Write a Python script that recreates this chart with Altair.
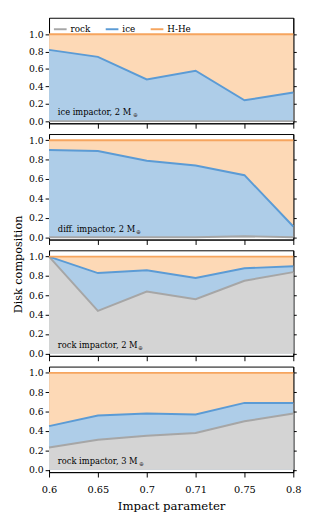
import altair as alt
import pandas as pd

FONT = "DejaVu Serif"

b_labels = ["0.6", "0.65", "0.7", "0.71", "0.75", "0.8"]
panel_titles = ["ice impactor, 2 M", "diff. impactor, 2 M", "rock impactor, 2 M", "rock impactor, 3 M"]
earth_sym = "⊕"
rock_frac = [
    [0.0, 0.0, 0.0, 0.0, 0.0, 0.0],
    [0.0, 0.0, 0.0, 0.0, 0.01, 0.0],
    [1.0, 0.44, 0.64, 0.56, 0.75, 0.84],
    [0.23, 0.31, 0.35, 0.38, 0.50, 0.58],
]
ice_top = [
    [0.82, 0.74, 0.48, 0.58, 0.24, 0.33],
    [0.90, 0.89, 0.79, 0.74, 0.64, 0.11],
    [1.0, 0.83, 0.86, 0.78, 0.88, 0.90],
    [0.45, 0.56, 0.58, 0.57, 0.69, 0.69],
]
hhe_top = [1.0, 1.0, 1.0, 1.0, 1.0, 1.0]
components = ["rock", "ice", "H-He"]
fill_colors = ["#d4d4d4", "#aecde8", "#fdd9b6"]
line_colors = ["#a6a6a6", "#5b9bd5", "#f6a55e"]
sub_x = [86, 89, 91, 92]

W, H = 250, 108


def panel(i):
    rows = []
    for j, b in enumerate(b_labels):
        rows.append({"b": b, "comp": "rock", "v": rock_frac[i][j]})
        rows.append({"b": b, "comp": "ice", "v": ice_top[i][j]})
        rows.append({"b": b, "comp": "H-He", "v": hhe_top[j]})
    df = pd.DataFrame(rows)
    dom = [-0.025, 1.19] if i == 0 else [-0.025, 1.065]
    last = i == 3
    xaxis = alt.Axis(labels=last, title="Impact parameter" if last else None,
                     labelAngle=0, tickSize=5, labelPadding=8, titlePadding=6,
                     labelFontSize=10, titleFontSize=12)
    yaxis = alt.Axis(values=[0, 0.2, 0.4, 0.6, 0.8, 1.0], format=".1f", tickSize=4,
                     labelPadding=2, title=None)
    x = alt.X("b:O", sort=b_labels, scale=alt.Scale(type="point", padding=0), axis=xaxis)
    yscale = alt.Scale(domain=dom, nice=False, zero=False)
    base = alt.Chart(df)
    layers = []
    first = True
    for c, fc in zip(["H-He", "ice", "rock"], [fill_colors[2], fill_colors[1], fill_colors[0]]):
        layers.append(
            base.transform_filter(alt.datum.comp == c).mark_area(color=fc, opacity=1).encode(
                x=x,
                y=alt.Y("v:Q", scale=yscale, axis=yaxis if first else None, stack=None),
                y2=alt.datum(0),
            )
        )
        first = False
    legend = alt.Legend(title=None, orient="none", legendX=4, legendY=4, direction="horizontal",
                        symbolType="stroke", symbolSize=169, symbolStrokeWidth=2,
                        labelFont=FONT, labelFontSize=9, labelOffset=3, columnPadding=11,
                        padding=0, labelColor="black")
    layers.append(
        base.mark_line(strokeWidth=2).encode(
            x=x,
            y=alt.Y("v:Q", scale=yscale, axis=None),
            color=alt.Color("comp:N", scale=alt.Scale(domain=components, range=line_colors),
                            legend=legend if i == 0 else None),
        )
    )
    # right-side ticks
    layers.append(
        base.mark_line(opacity=0).encode(
            x=x,
            y=alt.Y("v:Q", scale=yscale,
                    axis=alt.Axis(orient="right", labels=False, title=None, tickSize=3,
                                  values=[0, 0.2, 0.4, 0.6, 0.8, 1.0])),
        )
    )
    tdf = pd.DataFrame({"t": [panel_titles[i]], "s": [earth_sym]})
    layers.append(
        alt.Chart(tdf).mark_text(align="left", baseline="middle", font=FONT, fontSize=8.5,
                                 color="black").encode(
            text="t:N", x=alt.value(9), y=alt.value(97))
    )
    layers.append(
        alt.Chart(tdf).mark_text(align="left", baseline="middle", font=FONT, fontSize=6,
                                 color="#555555").encode(
            text="s:N", x=alt.value(sub_x[i]), y=alt.value(100))
    )
    return alt.layer(*layers).resolve_axis(y="independent").properties(width=W, height=H)


chart = alt.vconcat(*[panel(i) for i in range(4)], spacing=4).resolve_legend(
    color="independent"
).properties(
    title=alt.TitleParams(text="Disk composition", orient="left", anchor="middle",
                          font=FONT, fontSize=11.5, fontWeight="normal", color="black",
                          offset=4),
    padding={"left": 4, "top": 3, "right": 5, "bottom": 2},
).configure_view(
    stroke="black", strokeWidth=1
).configure_axis(
    grid=False, labelFont=FONT, titleFont=FONT, labelFontSize=9.5, titleFontSize=11.5,
    labelColor="black", titleColor="black", tickColor="black", domainColor="black",
    titleFontWeight="normal"
)

chart.save("out.html", embed_options={"renderer": "svg", "actions": False})
